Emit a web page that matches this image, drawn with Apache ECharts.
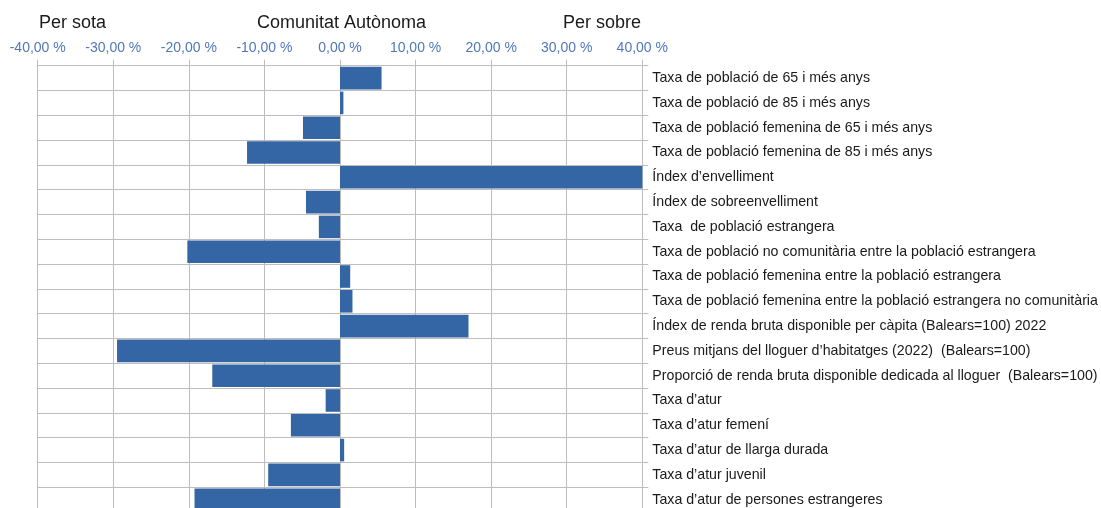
<!DOCTYPE html>
<html>
<head>
<meta charset="utf-8">
<script src="https://cdn.jsdelivr.net/npm/echarts@6/dist/echarts.min.js"></script>
<style>
html,body{margin:0;padding:0;background:#fff;overflow:hidden;}
#chart{width:1101px;height:520px;}
</style>
</head>
<body>
<div id="chart"></div>
<script>
const categories = [
  "Taxa de població de 65 i més anys",
  "Taxa de població de 85 i més anys",
  "Taxa de població femenina de 65 i més anys",
  "Taxa de població femenina de 85 i més anys",
  "Índex d’envelliment",
  "Índex de sobreenvelliment",
  "Taxa  de població estrangera",
  "Taxa de població no comunitària entre la població estrangera",
  "Taxa de població femenina entre la població estrangera",
  "Taxa de població femenina entre la població estrangera no comunitària",
  "Índex de renda bruta disponible per càpita (Balears=100) 2022",
  "Preus mitjans del lloguer d’habitatges (2022)  (Balears=100)",
  "Proporció de renda bruta disponible dedicada al lloguer  (Balears=100)",
  "Taxa d’atur",
  "Taxa d’atur femení",
  "Taxa d’atur de llarga durada",
  "Taxa d’atur juvenil",
  "Taxa d’atur de persones estrangeres"
];
const values = [5.5, 0.45, -4.9, -12.3, 40, -4.5, -2.8, -20.2, 1.35, 1.65, 17.0, -29.5, -16.9, -1.9, -6.5, 0.55, -9.5, -19.25];
const headerLabels = ["Per sota", "Comunitat Autònoma", "Per sobre"];
const xTicks = { min: -40, max: 40, interval: 10 };

const FONT = "'Liberation Sans', Arial, sans-serif";
const gridColor = '#bdbdbd';

const chart = echarts.init(document.getElementById('chart'), null, { renderer: 'canvas' });
chart.setOption({
  animation: false,
  backgroundColor: '#ffffff',
  graphic: [
    { type: 'text', left: 39, top: 14, style: { text: headerLabels[0], font: "18px " + FONT, fill: '#1a1a1a' } },
    { type: 'text', left: 257, top: 14, style: { text: headerLabels[1], font: "18px " + FONT, fill: '#1a1a1a' } },
    { type: 'text', left: 563, top: 14, style: { text: headerLabels[2], font: "18px " + FONT, fill: '#1a1a1a' } }
  ],
  grid: { left: 37.7, right: 458.7, top: 65.7, height: 446.4, containLabel: false },
  xAxis: {
    type: 'value',
    position: 'top',
    min: xTicks.min, max: xTicks.max, interval: xTicks.interval,
    axisLine: { show: true, lineStyle: { color: gridColor, width: 1 } },
    axisTick: { show: true, length: 6, lineStyle: { color: gridColor } },
    splitLine: { show: true, lineStyle: { color: gridColor, width: 1 } },
    axisLabel: {
      margin: 11,
      color: '#4f78ba',
      fontSize: 14,
      fontFamily: FONT,
      formatter: v => v.toFixed(2).replace('.', ',') + ' %'
    }
  },
  yAxis: {
    type: 'category',
    data: categories,
    inverse: true,
    position: 'right',
    axisLine: { show: true, onZero: false, lineStyle: { color: gridColor, width: 1 } },
    axisTick: { show: true, length: 6, lineStyle: { color: gridColor } },
    splitLine: { show: true, lineStyle: { color: gridColor, width: 1 } },
    axisLabel: { margin: 10, color: '#1a1a1a', fontSize: 14.2, fontFamily: FONT }
  },
  series: [{
    type: 'bar',
    data: values,
    barCategoryGap: '9%',
    itemStyle: { color: '#3465a4' },
    clip: true
  }]
});
</script>
</body>
</html>
